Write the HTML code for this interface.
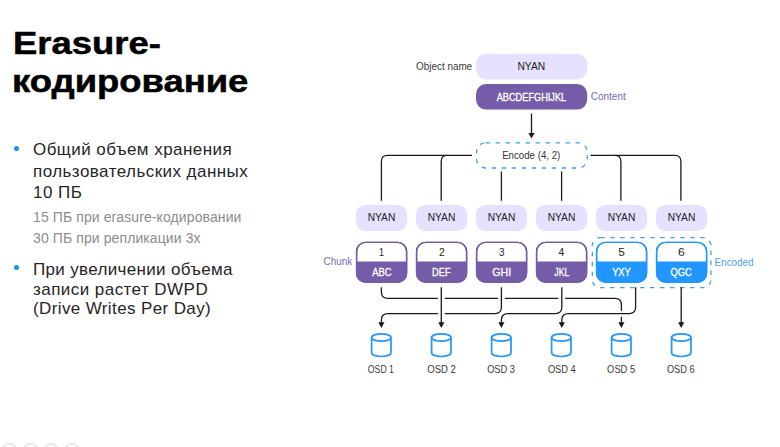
<!DOCTYPE html>
<html><head><meta charset="utf-8">
<style>
*{margin:0;padding:0;box-sizing:border-box}
html,body{width:780px;height:447px;overflow:hidden;background:#fff}
body{position:relative;font-family:"Liberation Sans",sans-serif;color:#1a1a1a}
.t{position:absolute;white-space:nowrap}
.title{font-weight:bold;font-size:31px;line-height:36px;color:#000;transform:scaleX(1.175);transform-origin:0 0;-webkit-text-stroke:0.5px #000}
.bl{left:33px;font-size:17px;line-height:20px;letter-spacing:0.45px;color:#262626}
.sub{left:33px;font-size:14px;line-height:20px;letter-spacing:0.1px;color:#8c8c8c}
.dot{position:absolute;width:5px;height:5px;border-radius:50%;background:#1e8cf8}
svg{position:absolute;left:0;top:0}
svg text{font-family:"Liberation Sans",sans-serif}
</style></head><body>

<div class="t title" style="top:25.5px;left:13px">Erasure-</div>
<div class="t title" style="top:64px;left:12px">кодирование</div>
<div class="dot" style="left:14.2px;top:146.2px"></div>
<div class="t bl" style="top:140px">Общий объем хранения</div>
<div class="t bl" style="top:161.7px">пользовательских данных</div>
<div class="t bl" style="top:182.7px">10 ПБ</div>
<div class="t sub" style="top:206.5px">15 ПБ при erasure-кодировании</div>
<div class="t sub" style="top:228px">30 ПБ при репликации 3х</div>
<div class="dot" style="left:14.2px;top:265.4px"></div>
<div class="t bl" style="top:260px;letter-spacing:0.33px">При увеличении объема</div>
<div class="t bl" style="top:280px">записи растет DWPD</div>
<div class="t bl" style="top:299.3px;letter-spacing:0.38px">(Drive Writes Per Day)</div>

<svg width="780" height="447" viewBox="0 0 780 447">
<rect x="476" y="53.7" width="111.2" height="25.8" rx="10" fill="#e6e1ff"/>
<rect x="476" y="84" width="111.2" height="25.6" rx="10" fill="#755ca8"/>
<path d="M531.5 113.5 V134" stroke="#1a1a1a" stroke-width="1.3" fill="none"/>
<path d="M528.4 133 L534.6 133 L531.5 138.6 Z" fill="#1a1a1a"/>
<rect x="476.6" y="142.8" width="110.6" height="25.2" rx="9" fill="none" stroke="#3d9ef5" stroke-width="1.3" stroke-dasharray="4.4 5.6"/>
<g fill="none" stroke="#1a1a1a" stroke-width="1.3"><path d="M472 155.4 H387.4 Q381.4 155.4 381.4 161.4 V200.8"/><path d="M447.2 155.4 Q441.2 155.4 441.2 161.4 V200.8"/><path d="M501.4 171.5 V200.8"/><path d="M561.6 171.5 V200.8"/><path d="M590.5 155.4 H674.9 Q680.9 155.4 680.9 161.4 V200.8"/><path d="M614.9 155.4 Q620.9 155.4 620.9 161.4 V200.8"/></g>
<rect x="355.9" y="204.9" width="51.3" height="26.1" rx="9.5" fill="#e6e1ff"/>
<rect x="415.9" y="204.9" width="51.3" height="26.1" rx="9.5" fill="#e6e1ff"/>
<rect x="475.9" y="204.9" width="51.3" height="26.1" rx="9.5" fill="#e6e1ff"/>
<rect x="535.9" y="204.9" width="51.3" height="26.1" rx="9.5" fill="#e6e1ff"/>
<rect x="595.9" y="204.9" width="51.3" height="26.1" rx="9.5" fill="#e6e1ff"/>
<rect x="655.9" y="204.9" width="51.3" height="26.1" rx="9.5" fill="#e6e1ff"/>
<rect x="592.3" y="237.6" width="118.6" height="50" rx="8" fill="none" stroke="#3d9ef5" stroke-width="1.3" stroke-dasharray="4.4 5.6"/>
<rect x="356.6" y="242.4" width="50" height="39.8" rx="9" fill="#fff" stroke="#755ca8" stroke-width="1.4"/>
<path d="M356.6 261.6 H406.6 V273.2 A9 9 0 0 1 397.6 282.2 H365.6 A9 9 0 0 1 356.6 273.2 Z" fill="#755ca8"/>
<rect x="356.6" y="242.4" width="50" height="39.8" rx="9" fill="none" stroke="#755ca8" stroke-width="1.4"/>
<rect x="416.6" y="242.4" width="50" height="39.8" rx="9" fill="#fff" stroke="#755ca8" stroke-width="1.4"/>
<path d="M416.6 261.6 H466.6 V273.2 A9 9 0 0 1 457.6 282.2 H425.6 A9 9 0 0 1 416.6 273.2 Z" fill="#755ca8"/>
<rect x="416.6" y="242.4" width="50" height="39.8" rx="9" fill="none" stroke="#755ca8" stroke-width="1.4"/>
<rect x="476.6" y="242.4" width="50" height="39.8" rx="9" fill="#fff" stroke="#755ca8" stroke-width="1.4"/>
<path d="M476.6 261.6 H526.6 V273.2 A9 9 0 0 1 517.6 282.2 H485.6 A9 9 0 0 1 476.6 273.2 Z" fill="#755ca8"/>
<rect x="476.6" y="242.4" width="50" height="39.8" rx="9" fill="none" stroke="#755ca8" stroke-width="1.4"/>
<rect x="536.6" y="242.4" width="50" height="39.8" rx="9" fill="#fff" stroke="#755ca8" stroke-width="1.4"/>
<path d="M536.6 261.6 H586.6 V273.2 A9 9 0 0 1 577.6 282.2 H545.6 A9 9 0 0 1 536.6 273.2 Z" fill="#755ca8"/>
<rect x="536.6" y="242.4" width="50" height="39.8" rx="9" fill="none" stroke="#755ca8" stroke-width="1.4"/>
<rect x="596.6" y="242.4" width="50" height="39.8" rx="9" fill="#fff" stroke="#2196ff" stroke-width="1.4"/>
<path d="M596.6 261.6 H646.6 V273.2 A9 9 0 0 1 637.6 282.2 H605.6 A9 9 0 0 1 596.6 273.2 Z" fill="#2196ff"/>
<rect x="596.6" y="242.4" width="50" height="39.8" rx="9" fill="none" stroke="#2196ff" stroke-width="1.4"/>
<rect x="656.6" y="242.4" width="50" height="39.8" rx="9" fill="#fff" stroke="#2196ff" stroke-width="1.4"/>
<path d="M656.6 261.6 H706.6 V273.2 A9 9 0 0 1 697.6 282.2 H665.6 A9 9 0 0 1 656.6 273.2 Z" fill="#2196ff"/>
<rect x="656.6" y="242.4" width="50" height="39.8" rx="9" fill="none" stroke="#2196ff" stroke-width="1.4"/>
<g fill="none" stroke="#1a1a1a" stroke-width="1.3"><path d="M381.4 287.3 V292 Q381.4 298.4 387.8 298.4 H615 Q621.4 298.4 621.4 304.8 V323"/></g>
<rect x="437.9" y="295" width="6.8" height="7" fill="#fff"/>
<rect x="498.0" y="295" width="6.8" height="7" fill="#fff"/>
<rect x="558.4" y="295" width="6.8" height="7" fill="#fff"/>
<g fill="none" stroke="#1a1a1a" stroke-width="1.3"><path d="M501.4 287.3 V307.3 Q501.4 313.6 495 313.6 H387.8 Q381.4 313.6 381.4 320 V323"/><path d="M561.8 287.3 V307.3 Q561.8 313.6 555.4 313.6 H507.8 Q501.4 313.6 501.4 320 V323"/></g>
<rect x="617" y="310.8" width="9" height="6" fill="#fff"/>
<rect x="437.9" y="310.5" width="6.8" height="7" fill="#fff"/>
<g fill="none" stroke="#1a1a1a" stroke-width="1.3"><path d="M635.6 287.3 V307.3 Q635.6 313.6 629.2 313.6 H568.2 Q561.8 313.6 561.8 320 V323"/><path d="M441.3 287.3 V323"/><path d="M681.2 287.3 V323"/></g>
<path d="M378.3 322.3 L384.5 322.3 L381.4 327.9 Z" fill="#1a1a1a"/>
<path d="M438.2 322.3 L444.4 322.3 L441.3 327.9 Z" fill="#1a1a1a"/>
<path d="M498.3 322.3 L504.5 322.3 L501.4 327.9 Z" fill="#1a1a1a"/>
<path d="M558.7 322.3 L564.9 322.3 L561.8 327.9 Z" fill="#1a1a1a"/>
<path d="M618.3 322.3 L624.5 322.3 L621.4 327.9 Z" fill="#1a1a1a"/>
<path d="M678.1 322.3 L684.3 322.3 L681.2 327.9 Z" fill="#1a1a1a"/>
<g fill="none" stroke="#2196ff" stroke-width="1.7"><ellipse cx="381.3" cy="337.5" rx="9.7" ry="3.7"/><path d="M371.6 337.5 V352.8 A9.7 3.7 0 0 0 391.0 352.8 V337.5"/><ellipse cx="441.3" cy="337.5" rx="9.7" ry="3.7"/><path d="M431.6 337.5 V352.8 A9.7 3.7 0 0 0 451.0 352.8 V337.5"/><ellipse cx="501.3" cy="337.5" rx="9.7" ry="3.7"/><path d="M491.6 337.5 V352.8 A9.7 3.7 0 0 0 511.0 352.8 V337.5"/><ellipse cx="561.3" cy="337.5" rx="9.7" ry="3.7"/><path d="M551.6 337.5 V352.8 A9.7 3.7 0 0 0 571.0 352.8 V337.5"/><ellipse cx="621.3" cy="337.5" rx="9.7" ry="3.7"/><path d="M611.6 337.5 V352.8 A9.7 3.7 0 0 0 631.0 352.8 V337.5"/><ellipse cx="681.3" cy="337.5" rx="9.7" ry="3.7"/><path d="M671.6 337.5 V352.8 A9.7 3.7 0 0 0 691.0 352.8 V337.5"/></g>
<circle cx="9.6" cy="450.6" r="6.8" fill="none" stroke="#e6e6e6" stroke-width="1.6"/>
<circle cx="30.4" cy="450.6" r="6.8" fill="none" stroke="#e6e6e6" stroke-width="1.6"/>
<circle cx="51.2" cy="450.6" r="6.8" fill="none" stroke="#e6e6e6" stroke-width="1.6"/>
<circle cx="72.0" cy="450.6" r="6.8" fill="none" stroke="#e6e6e6" stroke-width="1.6"/>
<text x="416.12" y="69.80" font-size="10" fill="#3a3a3a" font-weight="normal" textLength="56.01" lengthAdjust="spacingAndGlyphs">Object name</text>
<text x="517.44" y="70.00" font-size="10.4" fill="#222222" font-weight="normal" textLength="27.75" lengthAdjust="spacingAndGlyphs">NYAN</text>
<text x="496.70" y="100.50" font-size="10.2" fill="#ffffff" font-weight="normal" stroke="#ffffff" stroke-width="0.3" textLength="69.55" lengthAdjust="spacingAndGlyphs">ABCDEFGHIJKL</text>
<text x="590.80" y="100.30" font-size="10" fill="#7b69b9" font-weight="normal" textLength="34.93" lengthAdjust="spacingAndGlyphs">Content</text>
<text x="502.14" y="158.80" font-size="10" fill="#333333" font-weight="normal" textLength="58.16" lengthAdjust="spacingAndGlyphs">Encode (4, 2)</text>
<text x="367.70" y="221.10" font-size="10.2" fill="#222222" font-weight="normal" textLength="27.59" lengthAdjust="spacingAndGlyphs">NYAN</text>
<text x="427.70" y="221.10" font-size="10.2" fill="#222222" font-weight="normal" textLength="27.59" lengthAdjust="spacingAndGlyphs">NYAN</text>
<text x="487.70" y="221.10" font-size="10.2" fill="#222222" font-weight="normal" textLength="27.59" lengthAdjust="spacingAndGlyphs">NYAN</text>
<text x="547.70" y="221.10" font-size="10.2" fill="#222222" font-weight="normal" textLength="27.59" lengthAdjust="spacingAndGlyphs">NYAN</text>
<text x="607.70" y="221.10" font-size="10.2" fill="#222222" font-weight="normal" textLength="27.59" lengthAdjust="spacingAndGlyphs">NYAN</text>
<text x="667.70" y="221.10" font-size="10.2" fill="#222222" font-weight="normal" textLength="27.59" lengthAdjust="spacingAndGlyphs">NYAN</text>
<text x="378.90" y="256.10" font-size="10.6" fill="#222222" font-weight="normal" textLength="5.02" lengthAdjust="spacingAndGlyphs">1</text>
<text x="439.10" y="256.10" font-size="10.6" fill="#222222" font-weight="normal" textLength="5.82" lengthAdjust="spacingAndGlyphs">2</text>
<text x="498.95" y="256.10" font-size="10.6" fill="#222222" font-weight="normal" textLength="5.54" lengthAdjust="spacingAndGlyphs">3</text>
<text x="558.57" y="256.10" font-size="10.6" fill="#222222" font-weight="normal" textLength="5.77" lengthAdjust="spacingAndGlyphs">4</text>
<text x="618.15" y="256.10" font-size="10.6" fill="#222222" font-weight="normal" textLength="6.60" lengthAdjust="spacingAndGlyphs">5</text>
<text x="677.95" y="256.10" font-size="10.6" fill="#222222" font-weight="normal" textLength="6.72" lengthAdjust="spacingAndGlyphs">6</text>
<text x="372.27" y="275.80" font-size="10.2" fill="#ffffff" font-weight="normal" stroke="#ffffff" stroke-width="0.3" textLength="19.32" lengthAdjust="spacingAndGlyphs">ABC</text>
<text x="432.00" y="275.80" font-size="10.2" fill="#ffffff" font-weight="normal" stroke="#ffffff" stroke-width="0.3" textLength="18.56" lengthAdjust="spacingAndGlyphs">DEF</text>
<text x="492.19" y="275.80" font-size="10.2" fill="#ffffff" font-weight="normal" stroke="#ffffff" stroke-width="0.3" textLength="18.96" lengthAdjust="spacingAndGlyphs">GHI</text>
<text x="554.36" y="275.80" font-size="10.2" fill="#ffffff" font-weight="normal" stroke="#ffffff" stroke-width="0.3" textLength="14.83" lengthAdjust="spacingAndGlyphs">JKL</text>
<text x="612.14" y="275.80" font-size="10.2" fill="#ffffff" font-weight="normal" stroke="#ffffff" stroke-width="0.3" textLength="18.53" lengthAdjust="spacingAndGlyphs">YXY</text>
<text x="670.59" y="275.80" font-size="10.2" fill="#ffffff" font-weight="normal" stroke="#ffffff" stroke-width="0.3" textLength="21.23" lengthAdjust="spacingAndGlyphs">QGC</text>
<text x="323.50" y="265.40" font-size="10.2" fill="#7b69b9" font-weight="normal" textLength="28.78" lengthAdjust="spacingAndGlyphs">Chunk</text>
<text x="714.62" y="265.70" font-size="10.2" fill="#4aa0f0" font-weight="normal" textLength="38.91" lengthAdjust="spacingAndGlyphs">Encoded</text>
<text x="367.85" y="372.60" font-size="10.2" fill="#3a3a3a" font-weight="normal" textLength="26.11" lengthAdjust="spacingAndGlyphs">OSD 1</text>
<text x="427.35" y="372.60" font-size="10.2" fill="#3a3a3a" font-weight="normal" textLength="28.56" lengthAdjust="spacingAndGlyphs">OSD 2</text>
<text x="487.15" y="372.60" font-size="10.2" fill="#3a3a3a" font-weight="normal" textLength="27.88" lengthAdjust="spacingAndGlyphs">OSD 3</text>
<text x="547.89" y="372.60" font-size="10.2" fill="#3a3a3a" font-weight="normal" textLength="27.87" lengthAdjust="spacingAndGlyphs">OSD 4</text>
<text x="607.11" y="372.60" font-size="10.2" fill="#3a3a3a" font-weight="normal" textLength="28.05" lengthAdjust="spacingAndGlyphs">OSD 5</text>
<text x="666.88" y="372.60" font-size="10.2" fill="#3a3a3a" font-weight="normal" textLength="27.75" lengthAdjust="spacingAndGlyphs">OSD 6</text>
</svg>
</body></html>
